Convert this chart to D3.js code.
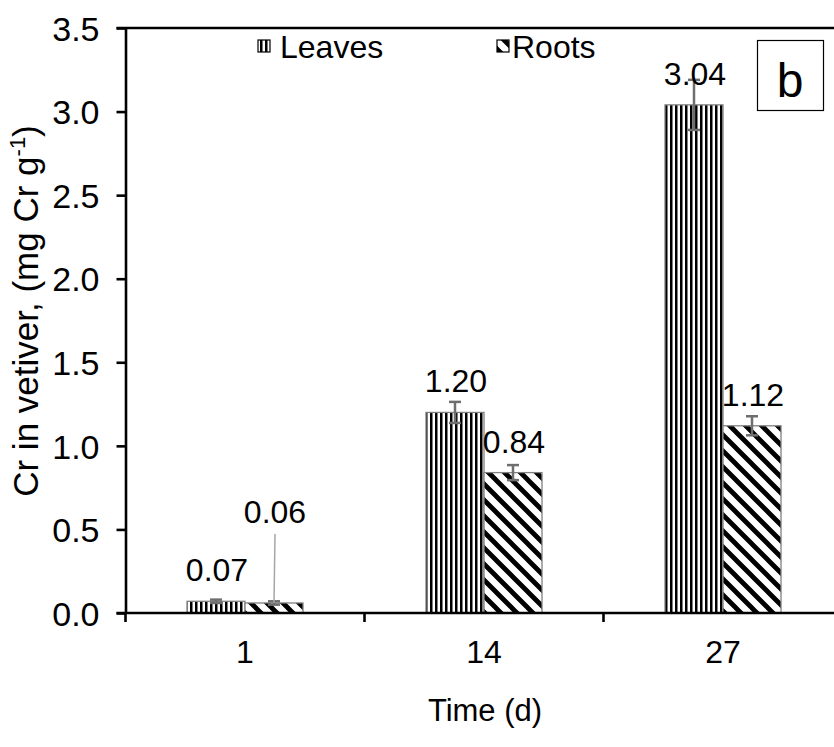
<!DOCTYPE html>
<html>
<head>
<meta charset="utf-8">
<script src="https://cdn.jsdelivr.net/npm/d3@7"></script>
<style>
  html, body { margin: 0; padding: 0; background: #fff; }
  svg { display: block; font-family: "Liberation Sans", Arial, sans-serif; }
</style>
</head>
<body>
<svg id="chart" width="834" height="747"></svg>
<script>
// ---- data ----
const categories = ["1", "14", "27"];
const seriesNames = ["Leaves", "Roots"];
const leavesValues = [0.07, 1.20, 3.04];
const rootsValues = [0.06, 0.84, 1.12];
const leavesErrors = [0.01, 0.063, 0.15];
const rootsErrors = [0.01, 0.045, 0.057];
const yTickValues = [0, 0.5, 1.0, 1.5, 2.0, 2.5, 3.0, 3.5];
const xTitle = "Time (d)";
const panelLetter = "b";

const svg = d3.select("#chart");
const W = 834, H = 747;
const plot = { left: 125.5, top: 28, bottom: 613, rightEnd: 842.5 };

const y = d3.scaleLinear().domain([0, 3.5]).range([plot.bottom, plot.top]);
const x0 = d3.scaleBand().domain(categories).range([plot.left, plot.rightEnd]).padding(0);
const barW = 58;
const x1 = d3.scaleBand().domain(seriesNames).range([0, barW * 2]).padding(0);
const groupStart = c => x0(c) + x0.bandwidth() / 2 - barW;

// ---- patterns ----
const defs = svg.append("defs");
const pv = defs.append("pattern").attr("id", "pat-leaves").attr("patternUnits", "userSpaceOnUse")
  .attr("width", 5).attr("height", 10);
pv.append("rect").attr("width", 5).attr("height", 10).attr("fill", "#fff");
pv.append("rect").attr("x", 0).attr("width", 2.5).attr("height", 10).attr("fill", "#000");

const pd = defs.append("pattern").attr("id", "pat-roots").attr("patternUnits", "userSpaceOnUse")
  .attr("width", 16).attr("height", 16);
pd.append("rect").attr("width", 16).attr("height", 16).attr("fill", "#fff");
pd.append("path").attr("d", "M-4,-4L20,20M-4,12L4,20M12,-4L20,4")
  .attr("stroke", "#000").attr("stroke-width", 4.8).attr("fill", "none");

const fills = { Leaves: "url(#pat-leaves)", Roots: "url(#pat-roots)" };

// ---- rows ----
const rows = [];
categories.forEach((c, i) => {
  rows.push({ cat: c, s: "Leaves", v: leavesValues[i], e: leavesErrors[i] });
  rows.push({ cat: c, s: "Roots", v: rootsValues[i], e: rootsErrors[i] });
});

// ---- bars ----
svg.append("g").selectAll("rect").data(rows).join("rect")
  .attr("x", d => groupStart(d.cat) + x1(d.s))
  .attr("y", d => y(d.v))
  .attr("width", x1.bandwidth())
  .attr("height", d => y(0) - y(d.v))
  .attr("fill", d => fills[d.s])
  .attr("stroke", "#808080")
  .attr("stroke-width", 1.3);

// ---- error bars ----
const eg = svg.append("g").attr("stroke", "#6e6e6e").attr("stroke-width", 2.5);
rows.forEach(d => {
  const cx = groupStart(d.cat) + x1(d.s) + x1.bandwidth() / 2;
  eg.append("line").attr("x1", cx).attr("x2", cx).attr("y1", y(d.v + d.e)).attr("y2", y(d.v - d.e));
  eg.append("line").attr("x1", cx - 6).attr("x2", cx + 6).attr("y1", y(d.v + d.e)).attr("y2", y(d.v + d.e));
  eg.append("line").attr("x1", cx - 6).attr("x2", cx + 6).attr("y1", y(d.v - d.e)).attr("y2", y(d.v - d.e));
});

// ---- data labels ----
const labelFont = 32;
const lg = svg.append("g").attr("font-size", labelFont).attr("text-anchor", "middle").attr("fill", "#000");
rows.forEach((d, i) => {
  const cx = groupStart(d.cat) + x1(d.s) + x1.bandwidth() / 2;
  const lifted = (d.cat === "1" && d.s === "Roots");
  const by = lifted ? y(d.v) - 80 : y(d.v) - 20;
  lg.append("text").attr("x", cx + 1).attr("y", by).text(d.v.toFixed(2));
  if (lifted) {
    svg.append("line").attr("x1", cx + 1).attr("x2", cx).attr("y1", by + 11).attr("y2", y(d.v))
      .attr("stroke", "#a6a6a6").attr("stroke-width", 1.5);
  }
});

// ---- axes ----
const axisColor = "#000";
const yAxis = d3.axisLeft(y).tickValues(yTickValues).tickFormat(d3.format(".1f"))
  .tickSize(9).tickSizeOuter(0).tickPadding(17);
const yg = svg.append("g").attr("transform", `translate(${plot.left},0)`).call(yAxis);
yg.select(".domain").attr("stroke", axisColor).attr("stroke-width", 2.6);
yg.selectAll(".tick line").attr("stroke", axisColor).attr("stroke-width", 2.6);
yg.selectAll(".tick text").attr("font-size", 34).attr("font-family", "Liberation Sans, Arial, sans-serif")
  .attr("fill", "#000").attr("dy", "0.36em");

// x axis line
svg.append("line").attr("x1", plot.left - 9).attr("x2", W).attr("y1", y(0)).attr("y2", y(0))
  .attr("stroke", axisColor).attr("stroke-width", 2.6);
// boundary ticks
const bounds = categories.map(c => x0(c)).concat([x0.range()[1]]);
svg.append("g").selectAll("line").data(bounds).join("line")
  .attr("x1", d => d).attr("x2", d => d).attr("y1", y(0)).attr("y2", y(0) + 9)
  .attr("stroke", axisColor).attr("stroke-width", 2.6);
// category labels
svg.append("g").selectAll("text").data(categories).join("text")
  .attr("x", c => x0(c) + x0.bandwidth() / 2).attr("y", 663)
  .attr("text-anchor", "middle").attr("font-size", 32).text(c => c);

// top border line
svg.append("line").attr("x1", plot.left - 9).attr("x2", W).attr("y1", plot.top).attr("y2", plot.top)
  .attr("stroke", axisColor).attr("stroke-width", 2.6);

// axis titles
svg.append("text").attr("x", 485).attr("y", 721).attr("text-anchor", "middle")
  .attr("font-size", 31).text(xTitle);

const yt = svg.append("text").attr("transform", `translate(38,311) rotate(-90)`)
  .attr("text-anchor", "middle").attr("font-size", 35);
yt.append("tspan").text("Cr in vetiver, (mg Cr g");
yt.append("tspan").attr("font-size", 22).attr("dy", -13).text("-1");
yt.append("tspan").attr("dy", 13).text(")");

// ---- legend ----
const legendItems = [
  { s: "Leaves", x: 258, gap: 22 },
  { s: "Roots", x: 497, gap: 15 }
];
const leg = svg.append("g");
legendItems.forEach(it => {
  leg.append("rect").attr("x", it.x).attr("y", 40).attr("width", 12).attr("height", 12)
    .attr("fill", fills[it.s]).attr("stroke", "#000").attr("stroke-width", 1.2);
  leg.append("text").attr("x", it.x + it.gap).attr("y", 58).attr("font-size", 32).text(it.s);
});

// ---- panel letter ----
svg.append("rect").attr("x", 757.5).attr("y", 40.5).attr("width", 66).attr("height", 70)
  .attr("fill", "#fff").attr("stroke", "#000").attr("stroke-width", 1.2);
svg.append("text").attr("x", 790).attr("y", 97).attr("text-anchor", "middle")
  .attr("font-size", 48).text(panelLetter);
</script>
</body>
</html>
